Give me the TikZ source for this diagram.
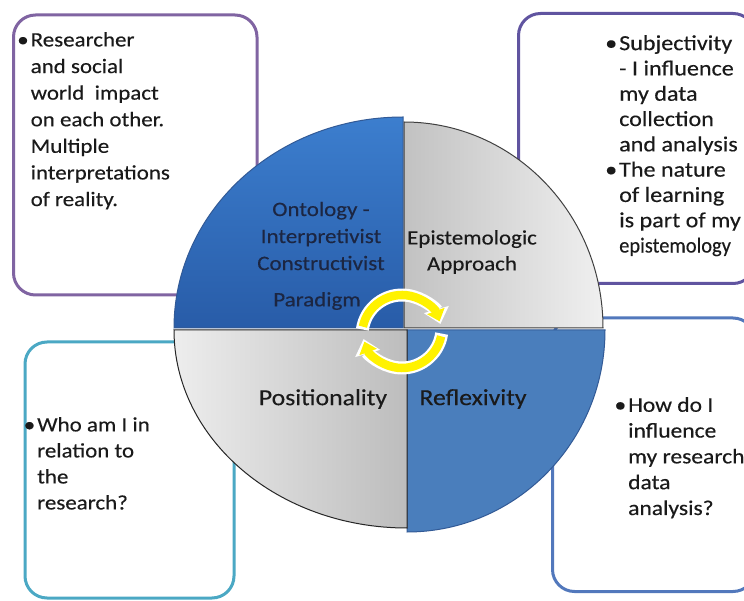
\documentclass[tikz,border=0pt]{standalone}
\usepackage{fontspec}
\usepackage{graphicx}
\setmainfont[FakeStretch=1.12,FakeBold=0.3]{Carlito}
\usetikzlibrary{arrows.meta,calc}
\definecolor{boxpurple}{RGB}{128,100,162}
\definecolor{boxviolet}{RGB}{96,84,160}
\definecolor{boxteal}{RGB}{75,168,196}
\definecolor{boxblue}{RGB}{82,120,188}
\definecolor{qdark}{RGB}{40,92,168}
\definecolor{qdarktop}{RGB}{60,126,206}
\definecolor{qblue}{RGB}{74,126,188}
\definecolor{qedge}{RGB}{50,90,150}
\definecolor{arrowyellow}{RGB}{255,242,0}
\definecolor{navytext}{RGB}{28,38,66}
\definecolor{inktext}{RGB}{26,26,26}
\newcommand\mybullet{\makebox[0pt][r]{•\hspace{2pt}}}
\begin{document}
\begin{tikzpicture}[x=1pt,y=1pt,
  infobox/.style={line width=3pt, rounded corners=22pt, fill=white},
  boxtext/.style={anchor=north west, align=left, inner sep=0pt, text=inktext},
  quadlabel/.style={align=center, inner sep=0pt},
  quadline/.style={line width=1pt}]
\useasboundingbox (0,0) rectangle (744,600);
\clip (0,0) rectangle (744,600);
\fill[white] (0,0) rectangle (744,600);

% boxes
\draw[infobox, draw=boxpurple] (13.5,305) rectangle (257,585);
\draw[infobox, draw=boxviolet] (518.5,316.5) rectangle (755,586.5);
\draw[infobox, draw=boxteal] (25,2) rectangle (234,258);
\draw[infobox, draw=boxblue] (552.5,8.5) rectangle (755,282);

% box texts
\node[boxtext, font=\fontsize{20.5}{26.6}\selectfont] (tltext) at (30.5,568)
  {\mybullet Researcher\\and social\\world\ \ impact\\on each other.\\Multiple\\interpretations\\of reality.};
\node[boxtext, font=\fontsize{21.5}{25.3}\selectfont] (trtext) at (619,565)
  {\mybullet Subjectivity\\- I influence\\my data\\collection\\and analysis\\\mybullet The nature\\of learning\\is part of my\\\scalebox{0.85}[1]{epistemology}};
\node[boxtext, font=\fontsize{20.5}{26}\selectfont] (bltext) at (37,183)
  {\mybullet Who am I in\\relation to\\the\\research?};
\node[boxtext, font=\fontsize{21}{25.8}\selectfont] (brtext) at (628,203)
  {\mybullet How do I\\influence\\my research\\data\\analysis?};

% quadrants
\shadedraw[quadline, draw=qedge, top color=qdarktop, bottom color=qdark]
  (403,272) -- (174,272) arc[start angle=180, end angle=90, x radius=229, y radius=211] -- cycle;
\filldraw[quadline, draw=qedge, fill=qblue]
  (407,270) -- (605,270) arc[start angle=0, end angle=-90, x radius=198, y radius=202] -- cycle;
\shadedraw[quadline, draw=black!75, left color=black!24, right color=black!6]
  (404,272) -- (404,478) arc[start angle=90, end angle=0, x radius=199, y radius=206] -- cycle;
\shadedraw[quadline, draw=black!85, left color=black!7, right color=black!26]
  (407,270) -- (174,270) arc[start angle=180, end angle=270, x radius=233, y radius=198] -- cycle;

% quadrant labels
\node[quadlabel, text=navytext, font=\fontsize{20.5}{27}\selectfont] (onto) at (321,364)
  {Ontology -\\Interpretivist\\Constructivist};
\node[quadlabel, text=navytext, font=\fontsize{20.5}{27}\selectfont] (para) at (317,299) {Paradigm};
\node[quadlabel, text=inktext, font=\fontsize{20.5}{26}\selectfont] (epis) at (472,348)
  {Epistemologic\\Approach};
\node[quadlabel, text=inktext, font=\fontsize{23}{27}\selectfont] (posi) at (323,201) {Positionality};
\node[quadlabel, text=inktext, font=\fontsize{23}{27}\selectfont] (refl) at (473,201) {Reflexivity};

% cycle arrows
\coordinate (upW) at ($(402,265)+(172:40)$);
\coordinate (upY) at ($(402,265)+(168:40)$);
\coordinate (loW) at ($(402,272)+(-8:40)$);
\coordinate (loY) at ($(402,272)+(-12:40)$);
\draw[white, line width=13pt, -{Triangle[length=15pt,width=25pt]}]
  (upW) arc[start angle=172, end angle=16, radius=40];
\draw[arrowyellow, line width=8.5pt, -{Triangle[length=11pt,width=18pt]}]
  (upY) arc[start angle=168, end angle=20, radius=40];
\draw[white, line width=13pt, -{Triangle[length=15pt,width=25pt]}]
  (loW) arc[start angle=-8, end angle=-164, radius=40];
\draw[arrowyellow, line width=8.5pt, -{Triangle[length=11pt,width=18pt]}]
  (loY) arc[start angle=-12, end angle=-160, radius=40];
\end{tikzpicture}
\end{document}
